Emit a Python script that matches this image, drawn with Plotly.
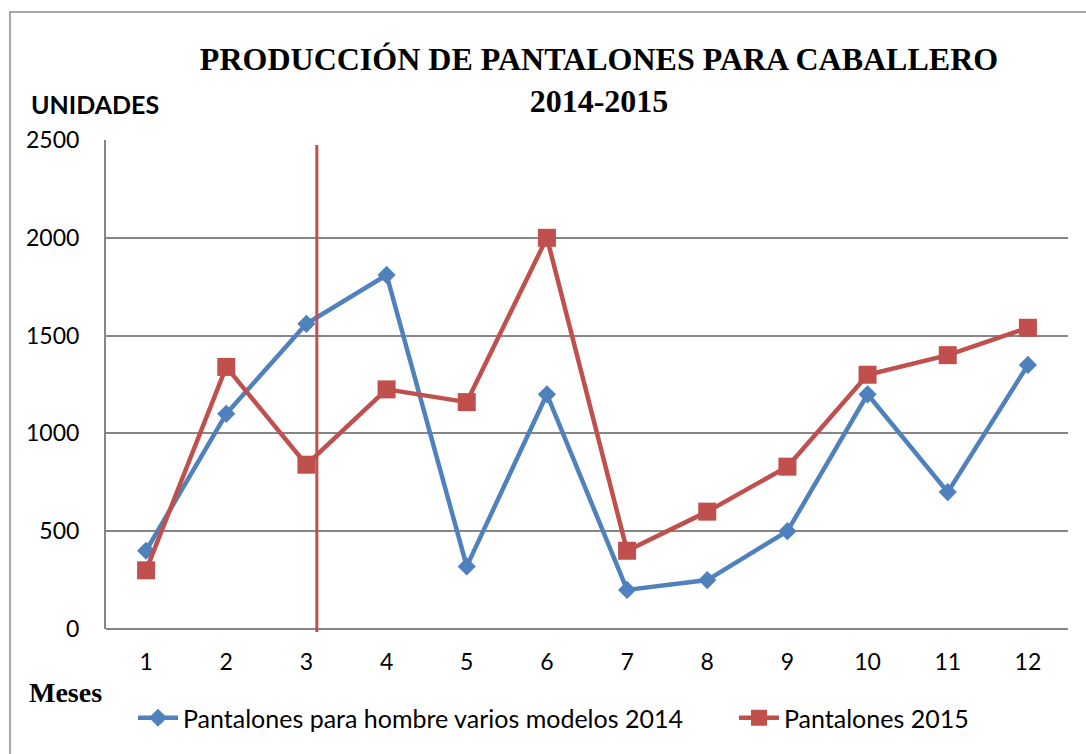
import plotly.graph_objects as go

meses = [1, 2, 3, 4, 5, 6, 7, 8, 9, 10, 11, 12]
serie_2014 = [400, 1100, 1560, 1810, 320, 1200, 200, 250, 500, 1200, 700, 1350]
serie_2015 = [300, 1340, 840, 1225, 1160, 2000, 400, 600, 830, 1300, 1400, 1540]
nombre_2014 = "Pantalones para hombre varios modelos 2014"
nombre_2015 = "Pantalones 2015"
y_ticks = [0, 500, 1000, 1500, 2000, 2500]
marca_x = 3.13  # position of the vertical red reference line (in month units)

BLUE = "#4F81BD"
RED = "#C0504D"
GRID = "#868686"
SANS = "Lato, 'Liberation Sans', sans-serif"
SERIF = "'Liberation Serif', 'Times New Roman', serif"

fig = go.Figure()
fig.add_trace(go.Scatter(
    x=meses, y=serie_2014, name=nombre_2014, mode="lines+markers",
    line=dict(color=BLUE, width=4.5),
    marker=dict(symbol="diamond", size=14, color=BLUE),
    legendwidth=546,
))
fig.add_trace(go.Scatter(
    x=meses, y=serie_2015, name=nombre_2015, mode="lines+markers",
    line=dict(color=RED, width=4.5),
    marker=dict(symbol="square", size=18, color=RED),
))

L, R, T, B = 106, 18, 140, 125
W, H = 1086, 754
pw, ph = W - L - R, H - T - B

def px_x(v):
    return (v - L) / pw

def px_y(v):
    return (H - B - v) / ph

fig.update_layout(
    width=W, height=H,
    margin=dict(l=L, r=R, t=T, b=B),
    paper_bgcolor="white", plot_bgcolor="white",
    title=dict(
        text="<b>PRODUCCIÓN DE PANTALONES PARA CABALLERO<br>2014-2015</b>",
        x=599 / W, xanchor="center", xref="container",
        y=1 - 70 / H, yanchor="top", yref="container",
        font=dict(family=SERIF, size=32, color="black"),
    ),
    xaxis=dict(
        range=[0.5, 12.5], tickmode="array", tickvals=meses,
        ticktext=[str(m) for m in meses],
        showgrid=False, zeroline=False, showline=False, ticks="",
        tickfont=dict(family=SANS, size=23, color="black"),
        ticklabelstandoff=17,
    ),
    yaxis=dict(
        range=[0, 2500], tickmode="array", tickvals=y_ticks,
        showgrid=True, gridcolor=GRID, gridwidth=2,
        zeroline=False, showline=True, linecolor=GRID, linewidth=2,
        ticks="", tickfont=dict(family=SANS, size=23, color="black"),
        ticklabelstandoff=20,
    ),
    showlegend=True,
    legend=dict(
        orientation="h", x=px_x(133), xanchor="left",
        y=px_y(718), yanchor="middle",
        font=dict(family=SANS, size=25, color="black"),
        itemwidth=40, bgcolor="rgba(0,0,0,0)",
    ),
    annotations=[
        dict(text="<b>UNIDADES</b>", xref="paper", yref="paper",
             x=px_x(29), y=px_y(104), xanchor="left", yanchor="middle",
             showarrow=False, font=dict(family=SANS, size=25, color="black")),
        dict(text="<b>Meses</b>", xref="paper", yref="paper",
             x=px_x(27), y=px_y(692), xanchor="left", yanchor="middle",
             showarrow=False, font=dict(family=SERIF, size=28, color="black")),
    ],
    shapes=[
        # outer chart frame (cut off at right and bottom)
        dict(type="rect", xref="paper", yref="paper",
             x0=px_x(10), x1=px_x(1100), y0=px_y(770), y1=px_y(12),
             line=dict(color="#8C8C8C", width=1.5), layer="below"),
        # bottom axis line
        dict(type="line", xref="paper", yref="paper",
             x0=0, x1=1, y0=0, y1=0, line=dict(color=GRID, width=2)),
        # vertical red reference line
        dict(type="line", xref="x", yref="paper",
             x0=marca_x, x1=marca_x, y0=px_y(632), y1=px_y(145),
             line=dict(color=RED, width=3)),
    ],
)

fig.write_html("out.html", config={"displayModeBar": False},
               post_script="document.body.style.margin='0';")
